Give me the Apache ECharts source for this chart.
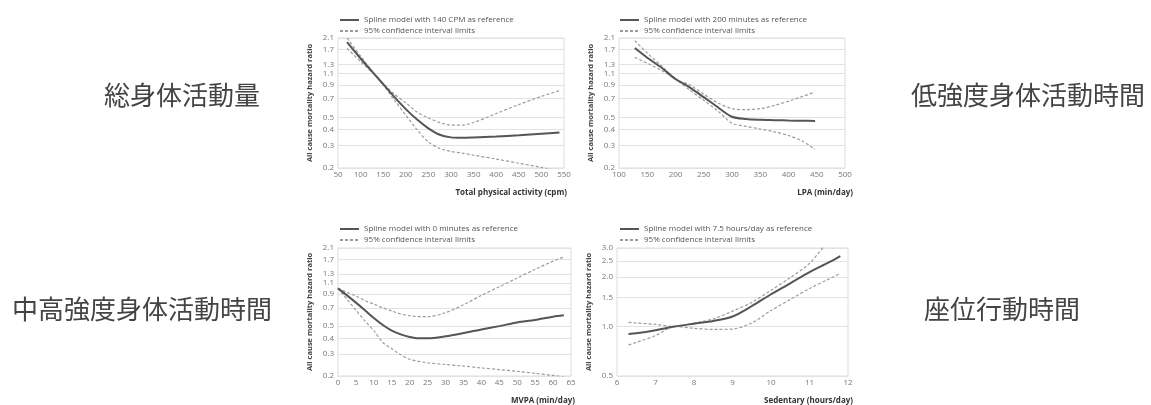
<!DOCTYPE html>
<html>
<head>
<meta charset="utf-8">
<title>身体活動と全死亡リスク</title>
<script src="https://cdn.jsdelivr.net/npm/echarts@6.0.0/dist/echarts.min.js"></script>
<style>
  html, body { margin: 0; padding: 0; background: #fff; }
  #main { width: 1151px; height: 405px; }
</style>
</head>
<body>
<div id="main"></div>
<script>
'use strict'
// y tick labels (hazard ratio, log scale)
var hrTicks = [0.2, 0.3, 0.4, 0.5, 0.7, 0.9, 1.1, 1.3, 1.7, 2.1]
var sedTicks = [0.5, 1.0, 1.5, 2.0, 2.5, 3.0]

var ciName = '95% confidence interval limits'

// 総身体活動量 - total physical activity (cpm)
var tpaX = [70, 100, 140, 175, 200, 225, 250, 275, 300, 325, 350, 400, 450, 500, 540]
var tpaHR = [1.95, 1.45, 1.0, 0.72, 0.58, 0.48, 0.41, 0.365, 0.348, 0.345, 0.347, 0.353, 0.362, 0.372, 0.38]
var tpaUpper = [2.1, 1.51, 1.0, 0.76, 0.65, 0.55, 0.495, 0.455, 0.435, 0.435, 0.455, 0.535, 0.63, 0.73, 0.81]
var tpaLower = [1.74, 1.37, 1.0, 0.68, 0.52, 0.4, 0.32, 0.285, 0.27, 0.262, 0.252, 0.235, 0.218, 0.202, 0.19]

// 低強度身体活動時間 - LPA (min/day)
var lpaX = [128, 150, 175, 200, 225, 250, 275, 300, 325, 350, 375, 400, 425, 447]
var lpaHR = [1.75, 1.47, 1.23, 1.0, 0.86, 0.72, 0.6, 0.505, 0.485, 0.478, 0.475, 0.472, 0.47, 0.468]
var lpaUpper = [2.0, 1.6, 1.27, 1.0, 0.9, 0.76, 0.65, 0.585, 0.575, 0.585, 0.62, 0.67, 0.73, 0.79]
var lpaLower = [1.48, 1.33, 1.17, 1.0, 0.82, 0.68, 0.56, 0.45, 0.425, 0.405, 0.385, 0.36, 0.325, 0.28]

// 中高強度身体活動時間 - MVPA (min/day)
var mvpaX = [0, 2.5, 5, 7.5, 10, 12.5, 15, 17.5, 20, 22.5, 25, 30, 35, 40, 45, 50, 55, 60, 63]
var mvpaHR = [1.0, 0.88, 0.77, 0.67, 0.58, 0.51, 0.46, 0.43, 0.41, 0.4, 0.4, 0.415, 0.44, 0.47, 0.5, 0.535, 0.56, 0.595, 0.61]
var mvpaUpper = [1.0, 0.93, 0.87, 0.8, 0.75, 0.7, 0.66, 0.625, 0.605, 0.595, 0.595, 0.64, 0.74, 0.88, 1.03, 1.21, 1.42, 1.65, 1.78]
var mvpaLower = [1.0, 0.82, 0.67, 0.55, 0.46, 0.37, 0.33, 0.295, 0.272, 0.262, 0.255, 0.247, 0.24, 0.232, 0.225, 0.218, 0.21, 0.202, 0.197]

// 座位行動時間 - sedentary (hours/day)
var sedX = [6.3, 6.5, 7, 7.5, 8, 8.5, 9, 9.5, 10, 10.5, 11, 11.5, 11.8]
var sedHR = [0.9, 0.91, 0.95, 1.0, 1.04, 1.08, 1.15, 1.33, 1.57, 1.83, 2.14, 2.45, 2.68]
var sedUpper = [1.06, 1.05, 1.03, 1.0, 1.05, 1.11, 1.24, 1.4, 1.66, 1.98, 2.42, 3.35]
var sedLower = [0.77, 0.8, 0.88, 1.0, 0.975, 0.96, 0.965, 1.05, 1.25, 1.46, 1.7, 1.94, 2.1]

function pairs (xs, ys) {
  var out = []
  for (var i = 0; i < ys.length; i++) out.push([xs[i], ys[i]])
  return out
}

var panels = [
  {
    ref: 'Spline model with 140 CPM as reference',
    xName: 'Total physical activity (cpm)',
    x: tpaX, hr: tpaHR, upper: tpaUpper, lower: tpaLower,
    xMin: 50, xMax: 550, xStep: 50,
    ticks: hrTicks, yMin: 0.2, yMax: 2.1,
    grid: { left: 338, top: 38, width: 226, height: 130 },
    legend: { left: 334, top: 11 },
    nameGap: 3
  },
  {
    ref: 'Spline model with 200 minutes as reference',
    xName: 'LPA (min/day)',
    x: lpaX, hr: lpaHR, upper: lpaUpper, lower: lpaLower,
    xMin: 100, xMax: 500, xStep: 50,
    ticks: hrTicks, yMin: 0.2, yMax: 2.1,
    grid: { left: 619, top: 38, width: 226, height: 130 },
    legend: { left: 614, top: 11 },
    nameGap: 8
  },
  {
    ref: 'Spline model with 0 minutes as reference',
    xName: 'MVPA (min/day)',
    x: mvpaX, hr: mvpaHR, upper: mvpaUpper, lower: mvpaLower,
    xMin: 0, xMax: 65, xStep: 5,
    ticks: hrTicks, yMin: 0.2, yMax: 2.1,
    grid: { left: 338, top: 248, width: 233, height: 130 },
    legend: { left: 334, top: 220 },
    nameGap: 4
  },
  {
    ref: 'Spline model with 7.5 hours/day as reference',
    xName: 'Sedentary (hours/day)',
    x: sedX, hr: sedHR, upper: sedUpper, lower: sedLower,
    xMin: 6, xMax: 12, xStep: 1,
    ticks: sedTicks, yMin: 0.5, yMax: 3.0,
    grid: { left: 617, top: 248, width: 231, height: 130 },
    legend: { left: 614, top: 220 },
    nameGap: 5
  }
]

var grids = []
var xAxes = []
var yAxes = []
var legends = []
var series = []

panels.forEach(function (p, i) {
  grids.push({
    left: p.grid.left,
    top: p.grid.top,
    width: p.grid.width,
    height: p.grid.height,
    show: true,
    borderColor: '#dcdcdc',
    borderWidth: 1
  })
  xAxes.push({
    type: 'value',
    gridIndex: i,
    min: p.xMin,
    max: p.xMax,
    interval: p.xStep,
    axisLine: { show: false },
    axisTick: { show: false },
    splitLine: { show: false },
    axisLabel: { fontSize: 8, color: '#777', margin: 3, fontFamily: 'Open Sans' },
    name: p.xName,
    nameLocation: 'end',
    nameGap: p.nameGap,
    nameTextStyle: {
      align: 'right',
      verticalAlign: 'top',
      padding: [21, 0, 0, 0],
      fontSize: 8,
      fontWeight: 'bold',
      color: '#333',
      fontFamily: 'Open Sans'
    }
  })
  yAxes.push({
    type: 'log',
    gridIndex: i,
    min: p.yMin,
    max: p.yMax,
    axisLine: { show: false },
    axisTick: { show: false, customValues: p.ticks },
    axisLabel: {
      customValues: p.ticks,
      fontSize: 8,
      color: '#777',
      margin: 4,
      fontFamily: 'Open Sans',
      formatter: function (v) { return (+v).toFixed(1) }
    },
    splitLine: { show: true, lineStyle: { color: '#e2e2e2', width: 1 } },
    name: 'All cause mortality hazard ratio',
    nameLocation: 'middle',
    nameGap: 24,
    nameTextStyle: { fontSize: 7.5, fontWeight: 'bold', color: '#444', fontFamily: 'Open Sans' }
  })
  legends.push({
    left: p.legend.left,
    top: p.legend.top,
    orient: 'vertical',
    itemWidth: 19,
    itemHeight: 8,
    itemGap: 3,
    selectedMode: false,
    itemStyle: { opacity: 0 },
    data: [p.ref, ciName],
    textStyle: { fontSize: 8, color: '#555', fontFamily: 'Open Sans' }
  })
  series.push({
    name: p.ref,
    type: 'line',
    xAxisIndex: i,
    yAxisIndex: i,
    data: pairs(p.x, p.hr),
    smooth: 0.3,
    symbol: 'none',
    lineStyle: { color: '#555', width: 2 },
    itemStyle: { color: '#555' },
    z: 3
  })
  ;[p.upper, p.lower].forEach(function (ys) {
    series.push({
      name: ciName,
      type: 'line',
      xAxisIndex: i,
      yAxisIndex: i,
      data: pairs(p.x, ys),
      smooth: 0.3,
      symbol: 'none',
      lineStyle: { color: '#9c9c9c', width: 1.2, type: [3, 2] },
      itemStyle: { color: '#9c9c9c' },
      z: 2
    })
  })
})

// side labels (Japanese)
var sideLabels = [
  { text: '総身体活動量', x: 182, y: 95 },
  { text: '低強度身体活動時間', x: 1028, y: 95 },
  { text: '中高強度身体活動時間', x: 142, y: 309 },
  { text: '座位行動時間', x: 1002, y: 309 }
]

var chart = echarts.init(document.getElementById('main'), null, { renderer: 'canvas' })
chart.setOption({
  backgroundColor: '#fff',
  animation: false,
  grid: grids,
  xAxis: xAxes,
  yAxis: yAxes,
  legend: legends,
  series: series,
  graphic: sideLabels.map(function (s) {
    return {
      type: 'text',
      x: s.x,
      y: s.y,
      style: {
        text: s.text,
        fill: '#444',
        font: '26px "Noto Sans CJK JP"',
        textAlign: 'center',
        textVerticalAlign: 'middle'
      }
    }
  })
})
</script>
</body>
</html>
